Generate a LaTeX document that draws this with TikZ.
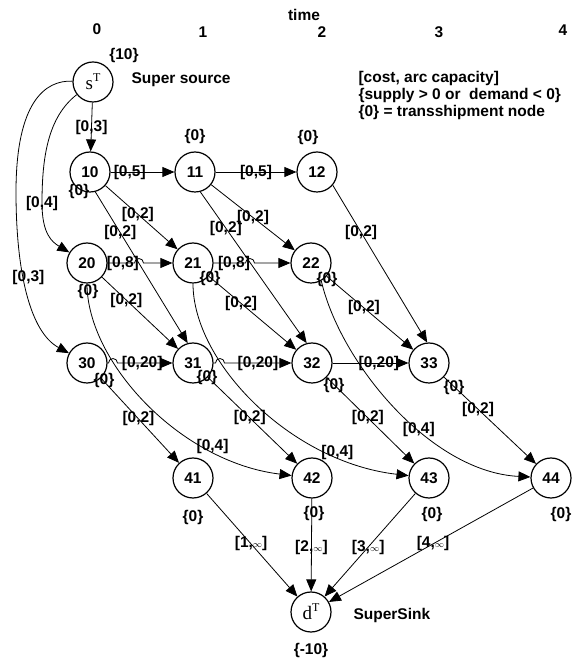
\documentclass[tikz,border=0pt]{standalone}
\usepackage{fontspec}
\setmainfont{Liberation Sans}
\newfontfamily\serifT{Liberation Serif}
\usetikzlibrary{arrows.meta}

% super source / super sink label: letter with a raised T
\newcommand{\supnode}[1]{{\serifT\mdseries\fontsize{19}{19}\selectfont #1\raisebox{8pt}{\fontsize{12}{12}\selectfont T}}}
% small infinity for the sink arcs
\newcommand{\infcap}{{\mdseries\fontsize{9}{9}\selectfont$\infty$}}

\tikzset{
  vertex/.style={circle, draw, line width=1.2pt, minimum size=40pt, inner sep=0pt},
  flow/.style={-{Triangle[length=12pt,width=10pt]}, line width=0.8pt},
  elab/.style={inner sep=1pt},
}

\begin{document}
\begin{tikzpicture}[x=1pt, y=1pt, font=\bfseries\fontsize{15.5}{17}\selectfont]

    \useasboundingbox (0,0) rectangle (572,662);

    % Time axis
    \node (time) at (304,647) {time};
    \node (t0) at (97,633) {0};
    \node (t1) at (203,630) {1};
    \node (t2) at (322,630) {2};
    \node (t3) at (439,630) {3};
    \node (t4) at (563,632) {4};

    % Legend
    \node[align=left, anchor=west] (legend) at (355,567)
        {[cost, arc capacity]\\ \{supply > 0 or\ \ demand < 0\}\\ \{0\} = transshipment node};

    % Super source and super sink
    \node[vertex] (sT) at (93,580) {\supnode{s}};
    \node[vertex] (dT) at (311,50) {\supnode{d}};
    \node[anchor=west] (srcname) at (128,582) {Super source};
    \node[anchor=west] (sinkname) at (350,47) {SuperSink};
    \node (bsT) at (124,607) {\{10\}};
    \node (bdT) at (311,12) {\{-10\}};

    % Time-expanded nodes
    \node[vertex] (n10) at (90,490) {10};
    \node[vertex] (n11) at (195,490) {11};
    \node[vertex] (n12) at (317,490) {12};
    \node[vertex] (n20) at (87,399) {20};
    \node[vertex] (n21) at (193,399) {21};
    \node[vertex] (n22) at (311,399) {22};
    \node[vertex] (n30) at (87,299) {30};
    \node[vertex] (n31) at (193,299) {31};
    \node[vertex] (n32) at (312,299) {32};
    \node[vertex] (n33) at (429,299) {33};
    \node[vertex] (n41) at (193,184) {41};
    \node[vertex] (n42) at (312,184) {42};
    \node[vertex] (n43) at (429,184) {43};
    \node[vertex] (n44) at (551,184) {44};

    % Supplies of the transshipment nodes
    \node (b10) at (79,471) {\{0\}};
    \node (b11) at (195,526) {\{0\}};
    \node (b12) at (308,525) {\{0\}};
    \node (b20) at (88,371) {\{0\}};
    \node (b21) at (210,384) {\{0\}};
    \node (b22) at (327,383) {\{0\}};
    \node (b30) at (104,282) {\{0\}};
    \node (b31) at (207,285) {\{0\}};
    \node (b32) at (334,277) {\{0\}};
    \node (b33) at (454,275) {\{0\}};
    \node (b41) at (193,145) {\{0\}};
    \node (b42) at (314,149) {\{0\}};
    \node (b43) at (432,148) {\{0\}};
    \node (b44) at (561,148) {\{0\}};

    % Arcs out of the super source
    \draw[flow] (sT) -- node[elab] {[0,3]} (n10);
    \draw[flow] (sT) .. controls (48,545) and (42,505) .. (42,459) node[elab] {[0,4]}
        .. controls (42,428) and (52,420) .. (n20);
    \draw[flow] (sT) .. controls (45,582) and (16,560) .. (16,470)
        .. controls (16,390) and (30,330) .. node[elab, pos=0.4, xshift=5pt] {[0,3]} (n30);

    % Holding arcs (line jumps where they cross)
    \draw[flow] (n10) -- node[elab, pos=0.3] {[0,5]} (n11);
    \draw[flow] (n11) -- node[elab] {[0,5]} (n12);
    \draw[flow] (n20) -- node[elab, pos=0.57] {[0,8]} (134.5,399)
        arc[start angle=180, end angle=0, radius=4.5] -- (n21);
    \draw[flow] (n21) -- node[elab, pos=0.64] {[0,8]} (245.5,399)
        arc[start angle=180, end angle=0, radius=4.5] -- (n22);
    \draw[flow] (n30) -- (108.5,299)
        arc[start angle=180, end angle=0, radius=4.5] -- node[elab, pos=0.45] {[0,20]} (n31);
    \draw[flow] (n31) -- (215.5,299)
        arc[start angle=180, end angle=0, radius=4.5] -- node[elab, pos=0.5] {[0,20]} (n32);
    \draw[flow] (n32) -- node[elab, pos=0.61] {[0,20]} (n33);

    % Travel arcs
    \draw[flow] (n10) -- node[elab, pos=0.45] {[0,2]} (n21);
    \draw[flow] (n10.-75) -- node[elab, pos=0.27] {[0,2]} (n31.105);
    \draw[flow] (n11) -- node[elab] {[0,2]} (n22);
    \draw[flow] (n11.-75) -- node[elab, pos=0.24] {[0,2]} (n32.105);
    \draw[flow] (n12.-40) -- node[elab, pos=0.3] {[0,2]} (n33.95);
    \draw[flow] (n20) -- node[elab, pos=0.32] {[0,2]} (n31);
    \draw[flow] (n21) -- node[elab, pos=0.37] {[0,2]} (n32);
    \draw[flow] (n22) -- node[elab, pos=0.43] {[0,2]} (n33);
    \draw[flow] (n30) -- node[elab, pos=0.48] {[0,2]} (n41);
    \draw[flow] (n31) -- node[elab, pos=0.47] {[0,2]} (n42);
    \draw[flow] (n32) -- node[elab, pos=0.47] {[0,2]} (n43);
    \draw[flow] (n33) -- node[elab, pos=0.37] {[0,2]} (n44);

    % Long travel arcs
    \draw[flow] (n20) .. controls (87,300) and (180,200) .. node[elab, pos=0.75, yshift=4pt] {[0,4]} (n42);
    \draw[flow] (n21) .. controls (193,300) and (290,200) .. node[elab, pos=0.79, yshift=4pt] {[0,4]} (n43);
    \draw[flow] (n22.-60) .. controls (340,300) and (430,190) .. node[elab, pos=0.6] {[0,4]} (n44);

    % Arcs into the super sink
    \draw[flow] (n41) -- node[elab, pos=0.49] {[1,\infcap]} (dT);
    \draw[flow] (n42) -- node[elab, pos=0.53] {[2,\infcap]} (dT);
    \draw[flow] (n43) -- node[elab, pos=0.52] {[3,\infcap]} (dT);
    \draw[flow] (n44) -- node[elab, pos=0.49] {[4,\infcap]} (dT);

\end{tikzpicture}
\end{document}
